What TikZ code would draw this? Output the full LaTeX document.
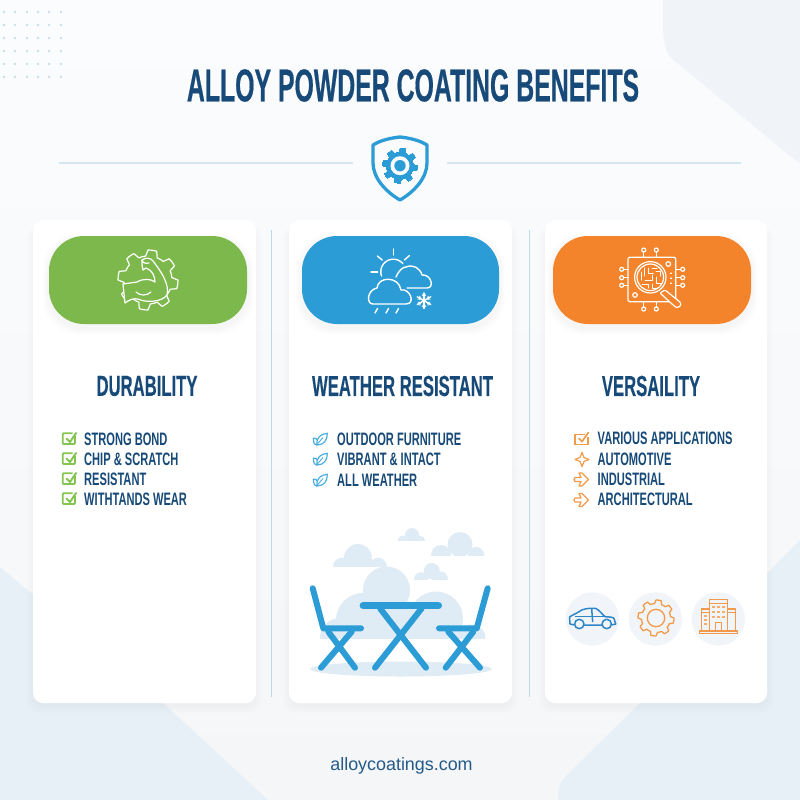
\documentclass[tikz,border=0pt]{standalone}
\usepackage{fontspec}
\setmainfont{Liberation Sans}
\newfontfamily\titlefont[FakeStretch=0.54,FakeBold=0.4]{Liberation Sans Bold}
\newfontfamily\headfont[FakeStretch=0.575,FakeBold=0.2]{Liberation Sans Bold}
\newfontfamily\listfont[FakeStretch=0.617]{Liberation Sans Bold}
\definecolor{navy}{HTML}{174A78}
\definecolor{footc}{HTML}{245A8A}
\definecolor{bgtop}{HTML}{FBFCFD}
\definecolor{bgbot}{HTML}{F4F6F8}
\definecolor{bgshape}{HTML}{E8F0F7}
\definecolor{bgshapetop}{HTML}{F0F4F9}
\definecolor{cgreen}{HTML}{7DB84C}
\definecolor{cblue}{HTML}{2C9CD6}
\definecolor{corange}{HTML}{F3842C}
\definecolor{chkgreen}{HTML}{84C450}
\definecolor{leafblue}{HTML}{4BAEE0}
\definecolor{sepline}{HTML}{D6E6F1}
\definecolor{sepv}{HTML}{BDD8EA}
\definecolor{cloudfill}{HTML}{DFECF5}
\definecolor{dotc}{HTML}{C9DFEE}
\definecolor{iconbg}{HTML}{F1F5F9}
\definecolor{carblue}{HTML}{2F86C6}
\definecolor{iconorange}{HTML}{F29A4A}
\tikzset{
  x=1pt,y=-1pt,
  cardbox/.style={fill=white,rounded corners=10pt,draw=none},
  pillbox/.style={rounded corners=35pt,draw=none},
  sepstyle/.style={draw=sepline,line width=1.6pt},
  sepvstyle/.style={draw=sepv,line width=1pt},
  whiteline/.style={draw=white,line width=1.2pt,line cap=round,line join=round},
  furn/.style={draw=cblue,line width=6pt,line cap=round,line join=round},
  heading/.style={text=navy,font=\headfont\fontsize{29}{29}\selectfont,anchor=center,inner sep=0pt},
  item/.style={text=navy,font=\listfont\fontsize{18}{18}\selectfont,anchor=west,inner sep=0pt},
}
\newcommand{\gearshape}[6]{% cx cy r1 r2 n style
  \draw[#6] plot[samples=#5*8+1,domain=0:360] ({#1+(mod(\x*#5/360+0.06,1)<0.5?#4:#3)*cos(\x)},{#2+(mod(\x*#5/360+0.06,1)<0.5?#4:#3)*sin(\x)}) -- cycle;}
\newcommand{\cardshadow}[4]{%
  \foreach \s in {8,6,4,2}{\fill[black!60!blue,opacity=0.008,rounded corners=12pt] (#1-\s+2,#2+6) rectangle (#3+\s-2,#4+\s+2);}}
\newcommand{\pillshadow}[5]{%
  \foreach \s in {6,4,2}{\fill[black!70,opacity=0.014,rounded corners=36pt] (#1-\s,#2-\s+4) rectangle (#3+\s,#4+\s+4);}
  \fill[#5,pillbox] (#1,#2) rectangle (#3,#4);}
\newcommand{\chk}[2]{\begin{scope}[shift={(#1,#2)}]
  \draw[chkgreen,line width=1.7pt,rounded corners=0.8pt] (6,-3)--(6,5)--(-6.3,5)--(-6.3,-5.7)--(3.5,-5.7);
  \draw[chkgreen,line width=2pt,line cap=round,line join=round] (-2.5,-0.5)--(1,3)--(7,-6);
\end{scope}}
\newcommand{\leaficon}[2]{\begin{scope}[shift={(#1,#2)}]
  \draw[leafblue,line width=1.2pt,line join=round] (-6.7,-1) .. controls (-4,-1) and (-3,0) .. (-3,1) (-3,6) .. controls (-6,6) and (-7,2) .. (-6.7,-1);
  \draw[leafblue,line width=1.2pt,line join=round] (-3,6) .. controls (-4,-2) and (1,-5) .. (7.3,-5.7) .. controls (7.5,1) and (4,6) .. (-3,6) -- cycle;
  \draw[leafblue,line width=0.9pt] (-3.5,6)--(3,-1.5);
\end{scope}}
\newcommand{\arrowicon}[2]{\begin{scope}[shift={(#1,#2)}]
  \draw[iconorange,line width=1.2pt,line join=round] (-8,0)--(-7,-2)--(-1,-2)--(-3,-6.5)--(0,-6.5)--(6.5,0)--(0,6.5)--(-3,6.5)--(-1,2)--(-7,2)--cycle;
\end{scope}}
\newcommand{\staricon}[2]{\begin{scope}[shift={(#1,#2)}]
  \draw[iconorange,line width=1.2pt,line join=round] (-7,0)--(-2,-2)--(0,-7)--(2,-2)--(7,0)--(2,2)--(0,7)--(-2,2)--cycle;
\end{scope}}
\newcommand{\puffs}[5]{% x1 x2 ytop ybase circles
  \begin{scope}\clip (#1,#3) rectangle (#2,#4);
  \foreach \ca/\cb/\cc in {#5}{\fill[cloudfill] (\ca,\cb) circle (\cc);}
  \end{scope}}
\begin{document}
\begin{tikzpicture}
\useasboundingbox (0,0) rectangle (800,800);
% background
\shade[top color=bgtop,bottom color=bgbot] (0,0) rectangle (800,800);
\fill[bgshapetop] (663,0) -- (663,30) .. controls (664,45) and (666,52) .. (671,58) -- (800,164) -- (800,0) -- cycle;
\fill[bgshape] (0,567) -- (163,703) -- (268,800) -- (0,800) -- cycle;
\fill[bgshape] (800,540) -- (640,703) -- (562,780) .. controls (559,785) and (558,792) .. (558,800) -- (800,800) -- cycle;
% dots
\foreach \yy in {12,25,38,51,64,77}{\foreach \xx in {4,15,27,38,49,61}{\fill[dotc] (\xx,\yy) circle (1.3pt);}}
% title
\node[text=navy,font=\titlefont\fontsize{46}{46}\selectfont,inner sep=0pt] (title) at (413,85.5) {ALLOY POWDER COATING BENEFITS};
% divider
\coordinate (dl1) at (59,163);\coordinate (dl2) at (353,163);
\coordinate (dr1) at (447,163);\coordinate (dr2) at (741,163);
\draw[sepstyle] (dl1)--(dl2);
\draw[sepstyle] (dr1)--(dr2);
% shield
\draw[cblue,line width=3.3pt,line join=round] (400,137) .. controls (391,138) and (381,140) .. (373,145) -- (373,163) .. controls (373,178) and (386,192) .. (400,200) .. controls (414,192) and (427,178) .. (427,163) -- (427,145) .. controls (419,140) and (409,138) .. (400,137) -- cycle;
\gearshape{400}{165.7}{13.5}{17.5}{8}{cblue,line width=0pt,fill=cblue}
\fill[white] (400,165.7) circle (9.5);
\fill[cblue] (400,165.7) circle (5.7);
% cards
\cardshadow{33}{220}{256}{703}
\cardshadow{289}{220}{512}{703}
\cardshadow{545}{220}{767}{703}
\fill[cardbox] (33,220) rectangle (256,703);
\fill[cardbox] (289,220) rectangle (512,703);
\fill[cardbox] (545,220) rectangle (767,703);
% separators
\coordinate (s1a) at (271,230);\coordinate (s1b) at (271,697);
\coordinate (s2a) at (529,230);\coordinate (s2b) at (529,697);
\draw[sepvstyle] (s1a)--(s1b);
\draw[sepvstyle] (s2a)--(s2b);
% pills
\pillshadow{49}{236}{247}{324}{cgreen}
\pillshadow{302}{236}{499}{324}{cblue}
\pillshadow{553}{236}{751}{324}{corange}
% muscle gear icon
\gearshape{148}{280}{24}{30}{8}{whiteline}
\filldraw[whiteline,fill=cgreen] (123,284) -- (137,282) .. controls (144,278) and (151,279) .. (155,282) .. controls (155,276) and (152,270) .. (146,268) -- (143,270) -- (142,265) -- (142,260) .. controls (146,257) and (151,258) .. (153,261) .. controls (160,270) and (170,284) .. (167,295) .. controls (162,302) and (146,303) .. (138,299) .. controls (133,298) and (129,300) .. (125,303) -- cycle;
\draw[whiteline] (136,292) .. controls (140,296) and (147,296) .. (151,292);
\draw[whiteline] (142,260) .. controls (142,262) and (144,264) .. (149,263);
% weather icon
\begin{scope}[whiteline,line width=1.4pt]
\draw (393.3,249)--(393.3,255);
\draw (377.3,256)--(382.3,260);
\draw (409.3,255.7)--(404.3,260);
\draw (371,272)--(377.7,272);
\draw plot[samples=30,domain=160:320] ({393.3+12.5*cos(\x)},{271.7+12.5*sin(\x)});
\draw (396,277) .. controls (399,270) and (403,267) .. (406,267) .. controls (413,264) and (420,268) .. (422,275) .. controls (431,274) and (435,288) .. (427,288) -- (407,288);
\draw (373,304) .. controls (366,304) and (367,290) .. (377,288) .. controls (378,276) and (399,276) .. (401,290) .. controls (410,288) and (416,304) .. (406,304) -- cycle;
\draw (377.5,308.5)--(375,313);
\draw (388.5,308.5)--(386,313);
\draw (398.5,308.5)--(396,313);
\end{scope}
\begin{scope}[white,line width=1.5pt,line cap=round]
\foreach \a in {30,90,150}{\draw ({424+7.7*cos(\a)},{300.7+7.7*sin(\a)})--({424-7.7*cos(\a)},{300.7-7.7*sin(\a)});}
\foreach \a in {30,90,150,210,270,330}{\draw[line width=.9pt] ({424+5*cos(\a)+2*cos(\a+60)},{300.7+5*sin(\a)+2*sin(\a+60)})--({424+3.5*cos(\a)},{300.7+3.5*sin(\a)})--({424+5*cos(\a)+2*cos(\a-60)},{300.7+5*sin(\a)+2*sin(\a-60)});}
\end{scope}
% chip icon
\begin{scope}[whiteline]
\draw[rounded corners=1.5pt] (628,257.3) rectangle (675.7,301.7);
\foreach \xa in {643.7,656.3}{\draw (\xa,257)--(\xa,252);\draw (\xa,250) circle (2);\draw (\xa,302)--(\xa,307);\draw (\xa,309) circle (2);}
\foreach \ya in {269.3,277.7,285.3}{\draw (628,\ya)--(624,\ya);\draw (621.7,\ya) circle (2);\draw (675.7,\ya)--(680.5,\ya);\draw (682.7,\ya) circle (2);}
\draw[fill=corange,rounded corners=1pt] (665,290)--(680,302) .. controls (682,306) and (678,308) .. (675,306.7)--(660,293)--cycle;
\draw[fill=corange] (650.3,277.3) circle (15.7);
\draw (650.3,277.3) circle (13.3);
\draw (668.3,264) circle (2.3);
\draw (635,295) circle (2.3);
\draw (671,273)--(671,273.5) (671,278)--(671,278.5) (671,283)--(671,283.5);
\draw[line width=1pt] (641,272)--(641,280) (644,268)--(644,276) (648,268)--(648,273)--(653,273) (652,268)--(657,268) (656,271)--(660,271)--(660,276) (645,280)--(652,280)--(652,275) (656,277)--(656,283)--(662,283) (642,284)--(648,284)--(648,288) (652,284)--(652,288)--(657,288);
\end{scope}
% headings
\node[heading] (h1) at (147,386) {DURABILITY};
\node[heading] (h2) at (402.5,386) {WEATHER RESISTANT};
\node[heading] (h3) at (651,386) {VERSAILITY};
% lists
\chk{69}{439}\chk{69}{459}\chk{69}{479}\chk{69}{499}
\node[item] (a1) at (84,439) {STRONG BOND};
\node[item] (a2) at (84,459) {CHIP \& SCRATCH};
\node[item] (a3) at (84,479) {RESISTANT};
\node[item] (a4) at (84,499) {WITHTANDS WEAR};
\leaficon{320}{439}\leaficon{320}{459}\leaficon{320}{480}
\node[item] (b1) at (337,439) {OUTDOOR FURNITURE};
\node[item] (b2) at (337,459) {VIBRANT \& INTACT};
\node[item] (b3) at (337,480) {ALL WEATHER};
\begin{scope}[shift={(582,439)}]
\draw[iconorange,line width=1.2pt] (3,-4.7)--(-7,-4.7)--(-7,5.3)--(6,5.3)--(6,-2);
\draw[iconorange,line width=1.7pt,line cap=round,line join=round] (-3,-0.5)--(0,2.5)--(6.3,-6.3);
\end{scope}
\staricon{582}{459.5}\arrowicon{582}{479.5}\arrowicon{582}{500}
\node[item] (c1) at (597.5,438.5) {VARIOUS APPLICATIONS};
\node[item] (c2) at (597.5,459) {AUTOMOTIVE};
\node[item] (c3) at (597.5,479) {INDUSTRIAL};
\node[item] (c4) at (597.5,499.5) {ARCHITECTURAL};
% outdoor scene
\puffs{333}{387}{540}{566.7}{358/558/14,378/566.7/9,342/566.7/9}
\puffs{431}{484}{528}{555}{460/544.5/12.5,441/555/10,476/555/8}
\puffs{397.7}{425}{525}{540.7}{412/535/7,403/540.7/5.3,420/540.7/5}
\puffs{414}{447.7}{560}{579.3}{431.7/571/8,421/579.3/7,440/579.3/8}
\puffs{320}{485}{560}{638.3}{386.5/590/23.5,363/620/27,436/618.5/27,340/638/20,472/638/13.5,400/625/25,455/640/15}
\fill[cloudfill] (401,669) circle[x radius=91,y radius=7.5];
% furniture
\coordinate (ch1a) at (312.7,588.3);\coordinate (ch1b) at (323.3,628.3);\coordinate (ch1c) at (361,628.3);
\draw[furn] (ch1a)--(ch1b)--(ch1c);
\draw[furn] (328.3,631.7)--(355,667.7);
\draw[furn] (351.7,631.7)--(321,667.7);
\coordinate (ch2a) at (487.7,588.3);\coordinate (ch2b) at (476.7,628.3);\coordinate (ch2c) at (439,628.3);
\draw[furn] (ch2a)--(ch2b)--(ch2c);
\draw[furn] (448.3,631.7)--(480,667.7);
\draw[furn] (473.3,631.7)--(445.7,667.7);
\draw[furn,line width=7.5pt] (363.3,605.7)--(438.3,605.7);
\draw[furn] (380,608.3)--(426,667.7);
\draw[furn] (421.7,608.3)--(375,667.7);
% bottom icons
\fill[iconbg] (592.3,619) circle (26.7);
\fill[iconbg] (655.3,619) circle (26.7);
\fill[iconbg] (718.3,619) circle (26.7);
\begin{scope}[carblue,line width=1.5pt,line join=round]
\draw (574.5,625) -- (570,624) -- (569.5,617) .. controls (572,615) and (576,614) .. (581.7,610) .. controls (587,608) and (592,608) .. (596,608.5) .. controls (599,610) and (602,614) .. (605,616.7) .. controls (610,617) and (613,617) .. (614,618.5) -- (615.7,624) -- (611.5,625) (602,625) -- (584,625);
\draw (579.3,624) circle (4.7);
\draw (606.7,624) circle (4.7);
\draw (575,616.7) -- (605,616.7);
\draw (591.7,609) -- (592.7,622);
\end{scope}
\gearshape{656}{618}{14.5}{18}{8}{iconorange,line width=1.3pt,line join=round}
\draw[iconorange,line width=1.3pt] (656,618) circle (8.7);
\begin{scope}[iconorange,line width=1.2pt,line join=round]
\draw (701.7,631) -- (701.7,609) -- (709.3,609) (735.7,631) -- (735.7,609) -- (727.3,609);
\draw (709.3,631) -- (709.3,599.5) -- (727.3,599.5) -- (727.3,631);
\draw (709.3,603.5)--(727.3,603.5) (701.7,612.5)--(709.3,612.5) (727.3,612.5)--(735.7,612.5);
\draw (699.5,631) rectangle (737.5,633.3);
\draw (715.7,631)--(715.7,622.5)--(721.7,622.5)--(721.7,631);
\foreach \py in {607,612,617}{\foreach \px in {713.3,718.3,723.3}{\fill[iconorange!80] (\px-1.2,\py-1.2) rectangle (\px+1.2,\py+1.2);}}
\foreach \py in {616,620,624}{\fill[iconorange!80] (704,\py-.7) rectangle (707,\py+.7);}
\end{scope}
% footer
\node[text=footc,font=\fontsize{17.9}{17.9}\selectfont,inner sep=0pt] (foot) at (401.5,766) {alloycoatings.com};
\end{tikzpicture}
\end{document}
